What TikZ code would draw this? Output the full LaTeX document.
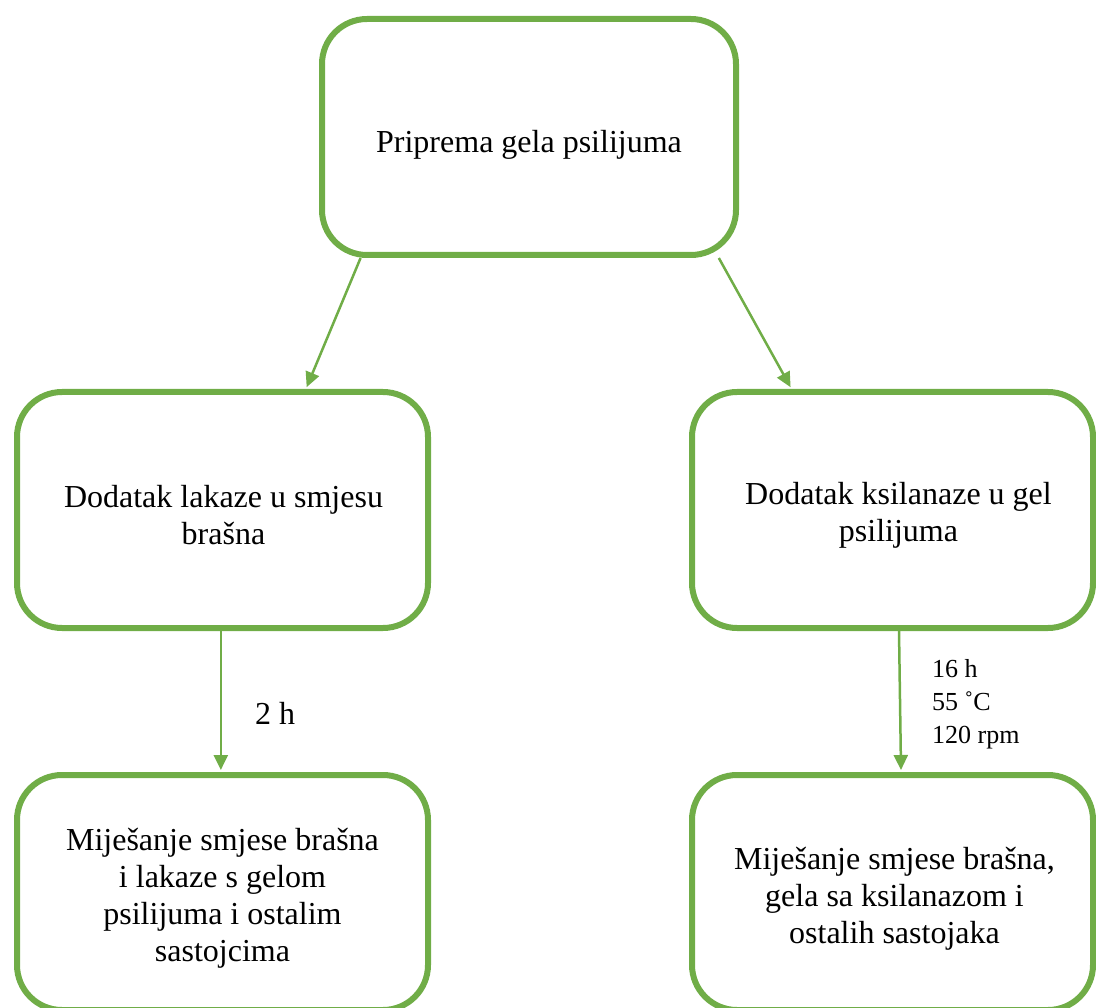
\documentclass[tikz,border=0pt]{standalone}
\usepackage{fontspec}
\setmainfont{Liberation Serif}
\usetikzlibrary{arrows.meta,calc}
\definecolor{gr}{HTML}{70AD47}
\begin{document}
\begin{tikzpicture}[x=1pt,y=-1pt,
  box/.style={draw=gr,line width=6pt,rounded corners=45pt,inner sep=0pt},
  txt/.style={align=center,inner sep=0pt,font=\fontsize{32}{37}\selectfont},
  arr/.style={draw=gr,line width=2.5pt,-{Triangle[length=15pt,width=14pt]},shorten >=2pt},
  lbl/.style={anchor=west,align=left,inner sep=0pt}]
\useasboundingbox (0,0) rectangle (1096,1008);
\node[box,minimum width=414pt,minimum height=236pt] (top) at (529,137) {};
\node[box,minimum width=411pt,minimum height=236pt] (left) at (222.5,510) {};
\node[box,minimum width=401pt,minimum height=236pt] (right) at (892.5,510) {};
\node[box,minimum width=411pt,minimum height=235pt] (bl) at (222.5,892.5) {};
\node[box,minimum width=401pt,minimum height=235pt] (br) at (892.5,892.5) {};
\node[txt] (topT) at ($(top.center)+(0,8)$) {Priprema gela psilijuma};
\node[txt] (leftT) at ($(left.center)+(1,5)$) {Dodatak lakaze u smjesu\\brašna};
\node[txt] (rightT) at ($(right.center)+(6,5)$) {Dodatak ksilanaze u gel\\psilijuma};
\node[txt] (blT) at ($(bl.center)+(0,6)$) {Miješanje smjese brašna\\i lakaze s gelom\\psilijuma i ostalim\\sastojcima};
\node[txt] (brT) at ($(br.center)+(2,6)$) {Miješanje smjese brašna,\\gela sa ksilanazom i\\ostalih sastojaka};
\coordinate (t1) at ($(top.south west)!0.099!(top.south east)$);
\coordinate (t2) at ($(top.south west)!0.952!(top.south east)$);
\coordinate (l1) at ($(left.north west)!0.70!(left.north east)$);
\coordinate (r1) at ($(right.north west)!0.252!(right.north east)$);
\coordinate (l2) at ($(left.south west)!0.496!(left.south east)$);
\coordinate (l3) at ($(bl.north west)!0.496!(bl.north east)$);
\coordinate (r2) at ($(right.south west)!0.516!(right.south east)$);
\coordinate (r3) at ($(br.north west)!0.521!(br.north east)$);
\draw[arr] (t1) -- (l1);
\draw[arr] (t2) -- (r1);
\draw[arr] (l2) -- (l3);
\draw[arr] (r2) -- (r3);
\node[lbl,font=\fontsize{32}{37}\selectfont] (lab1) at (255,713) {2 h};
\node[lbl,font=\fontsize{26}{33}\selectfont] (lab2) at (932,704) {16 h\\55 ˚C\\120 rpm};
\end{tikzpicture}
\end{document}
